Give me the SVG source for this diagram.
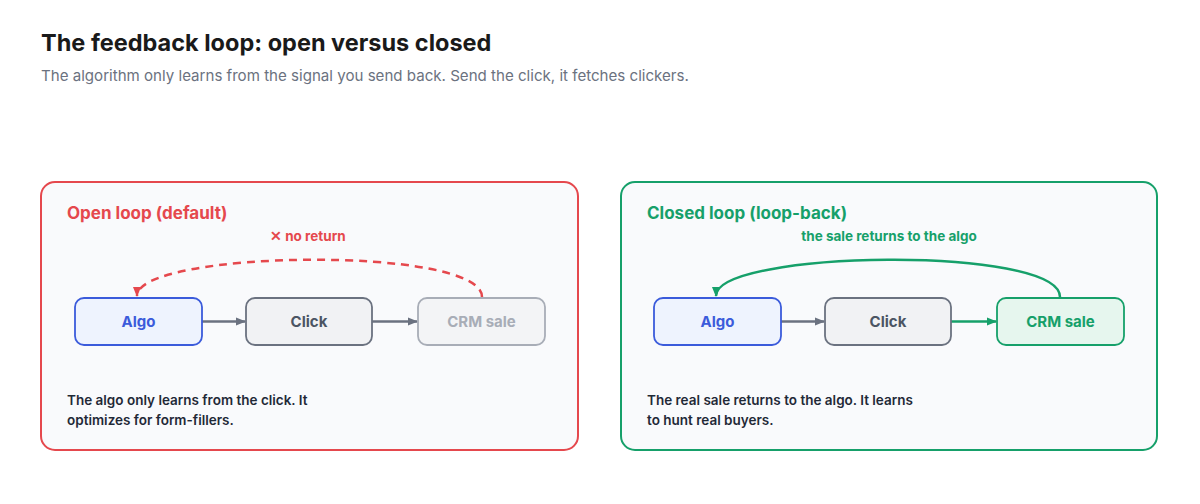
<svg xmlns="http://www.w3.org/2000/svg" width="1200" height="504" viewBox="0 0 1200 504">
<defs>
<style>
text{font-family:Inter,"Liberation Sans",sans-serif}
.h{font-size:23.5px;font-weight:700;fill:#1a1a1a}
.sub{font-size:15.1px;fill:#6b7280}
.pt{font-size:17px;font-weight:700}
.lbl{font-size:13.5px;font-weight:700}
.body{font-size:13.5px;font-weight:600;fill:#1f2937}
.nt{font-size:15px;font-weight:700;text-anchor:middle}
.panel{fill:#f9fafc;stroke-width:2}
.node{stroke-width:1.8}
</style>
<marker id="ag" viewBox="0 0 10 10" refX="9" refY="5" markerUnits="userSpaceOnUse" markerWidth="10" markerHeight="10" orient="auto"><path d="M0,1L10,5L0,9z" fill="#6b7280"/></marker>
<marker id="agr" viewBox="0 0 10 10" refX="9" refY="5" markerUnits="userSpaceOnUse" markerWidth="10" markerHeight="10" orient="auto"><path d="M0,1L10,5L0,9z" fill="#16a06a"/></marker>
<marker id="ar" viewBox="0 0 10 10" refX="9" refY="5" markerUnits="userSpaceOnUse" markerWidth="10" markerHeight="10" orient="auto"><path d="M0,1L10,5L0,9z" fill="#e5484d"/></marker>
</defs>
<rect width="1200" height="504" fill="#fff"/>
<text x="41" y="51" class="h">The feedback loop: open versus closed</text>
<text x="41" y="81" class="sub">The algorithm only learns from the signal you send back. Send the click, it fetches clickers.</text>

<g id="panel-open">
<rect x="41" y="182" width="537" height="268" rx="14" class="panel" stroke="#e5484d"/>
<text x="67" y="219" class="pt" fill="#e5484d">Open loop (default)</text>
<text x="270" y="241" class="lbl" fill="#e5484d">✕ no return</text>
<text x="67" y="405" class="body">The algo only learns from the click. It</text>
<text x="67" y="425" class="body">optimizes for form-fillers.</text>
</g>
<g id="panel-closed">
<rect x="621" y="182" width="536" height="268" rx="14" class="panel" stroke="#16a06a"/>
<text x="647" y="219" class="pt" fill="#16a06a">Closed loop (loop-back)</text>
<text x="889" y="241" class="lbl" fill="#16a06a" text-anchor="middle">the sale returns to the algo</text>
<text x="647" y="405" class="body">The real sale returns to the algo. It learns</text>
<text x="647" y="425" class="body">to hunt real buyers.</text>
</g>

<g id="connectors">
<line x1="202" y1="321.5" x2="245" y2="321.5" stroke="#6b7280" stroke-width="2.5" marker-end="url(#ag)"/>
<line x1="372" y1="321.5" x2="417" y2="321.5" stroke="#6b7280" stroke-width="2.5" marker-end="url(#ag)"/>
<path d="M482,297 C482,245 137,250 137,296" fill="none" stroke="#e5484d" stroke-width="2.5" stroke-dasharray="8,6" marker-end="url(#ar)"/>
<line x1="781" y1="321.5" x2="824" y2="321.5" stroke="#6b7280" stroke-width="2.5" marker-end="url(#ag)"/>
<line x1="951" y1="321.5" x2="996" y2="321.5" stroke="#16a06a" stroke-width="2.5" marker-end="url(#agr)"/>
<path d="M1060,297 C1060,245 716,250 716,296" fill="none" stroke="#16a06a" stroke-width="2.5" marker-end="url(#agr)"/>
</g>

<g id="open-algo"><rect x="75" y="298" width="127" height="47" rx="9" class="node" fill="#eef3fe" stroke="#3b5bdb"/><text x="138.5" y="327" class="nt" fill="#3b5bdb">Algo</text></g>
<g id="open-click"><rect x="246" y="298" width="126" height="47" rx="9" class="node" fill="#f1f2f4" stroke="#6b7280"/><text x="309" y="327" class="nt" fill="#4b5563">Click</text></g>
<g id="open-crm"><rect x="418" y="298" width="127" height="47" rx="9" class="node" fill="#f3f4f6" stroke="#a8adb7"/><text x="481.5" y="327" class="nt" fill="#a8adb7">CRM sale</text></g>
<g id="closed-algo"><rect x="654" y="298" width="127" height="47" rx="9" class="node" fill="#eef3fe" stroke="#3b5bdb"/><text x="717.5" y="327" class="nt" fill="#3b5bdb">Algo</text></g>
<g id="closed-click"><rect x="825" y="298" width="126" height="47" rx="9" class="node" fill="#f1f2f4" stroke="#6b7280"/><text x="888" y="327" class="nt" fill="#4b5563">Click</text></g>
<g id="closed-crm"><rect x="997" y="298" width="127" height="47" rx="9" class="node" fill="#e6f6ee" stroke="#16a06a"/><text x="1060.5" y="327" class="nt" fill="#16a06a">CRM sale</text></g>
</svg>
